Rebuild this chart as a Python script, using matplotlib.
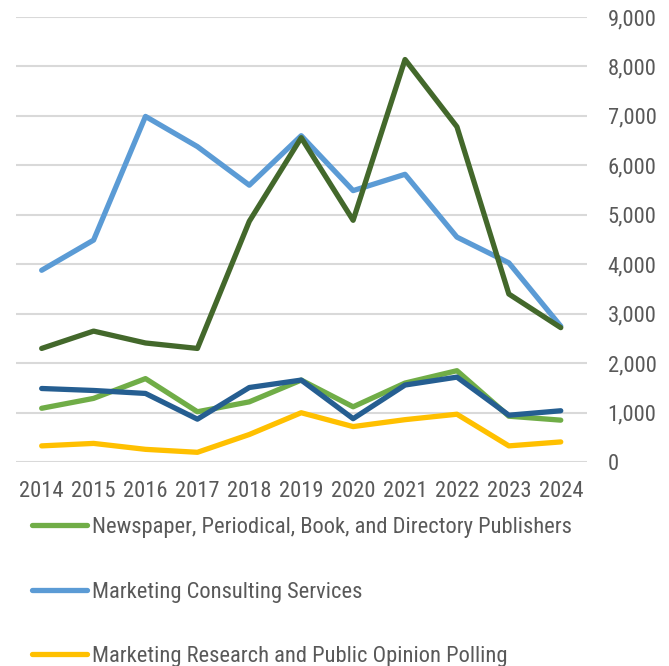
import matplotlib
matplotlib.use("Agg")
import matplotlib.pyplot as plt

years = ["2014", "2015", "2016", "2017", "2018", "2019", "2020", "2021", "2022", "2023", "2024"]

newspaper = [1090, 1290, 1690, 1020, 1220, 1660, 1120, 1600, 1850, 930, 850]
consulting = [3880, 4490, 6990, 6380, 5600, 6600, 5490, 5820, 4550, 4030, 2750]
research = [330, 380, 260, 200, 560, 1000, 720, 860, 970, 330, 410]
dark_blue_series = [1490, 1450, 1390, 870, 1510, 1660, 880, 1560, 1720, 950, 1040]
dark_green_series = [2300, 2650, 2410, 2300, 4870, 6560, 4890, 8140, 6780, 3400, 2720]

labels = [
    "Newspaper, Periodical, Book, and Directory Publishers",
    "Marketing Consulting Services",
    "Marketing Research and Public Opinion Polling",
]

yticks = [0, 1000, 2000, 3000, 4000, 5000, 6000, 7000, 8000, 9000]

plt.rcParams["font.family"] = ["Roboto Condensed", "DejaVu Sans"]
plt.rcParams["font.weight"] = "normal"

txt = "#595959"
fs = 16.2

fig = plt.figure(figsize=(6.69, 6.66), dpi=100)
ax = fig.add_axes([0.0235, 0.306, 0.8535, 0.6685])

x = list(range(len(years)))
lw = 3.8
kw = dict(lw=lw, solid_capstyle="round", solid_joinstyle="round", zorder=3)
l1, = ax.plot(x, newspaper, color="#70AD47", **kw)
l2, = ax.plot(x, consulting, color="#5B9BD5", **kw)
l3, = ax.plot(x, research, color="#FFC000", **kw)
ax.plot(x, dark_blue_series, color="#255E91", **kw)
ax.plot(x, dark_green_series, color="#43682B", **kw)

ax.set_xlim(-0.5, len(years) - 0.5)
ax.set_ylim(0, 9000)
ax.set_xticks(x)
ax.set_xticklabels(years)
ax.set_yticks(yticks)
ax.set_yticklabels([f"{v:,}" for v in yticks])
ax.yaxis.tick_right()
ax.tick_params(axis="both", length=0, labelsize=fs, colors=txt)
ax.tick_params(axis="x", pad=13.5)
ax.tick_params(axis="y", pad=15)
for lab in ax.get_yticklabels():
    lab.set_horizontalalignment("left")
ax.grid(axis="y", color="#D9D9D9", lw=1.5, zorder=0)
for s in ax.spines.values():
    s.set_visible(False)

leg = fig.legend([l1, l2, l3], labels, loc="upper left", bbox_to_anchor=(0.048, 0.2235),
                 frameon=False, fontsize=fs, handlelength=2.45, handletextpad=0.2,
                 labelspacing=1.93, borderaxespad=0, borderpad=0)
for t in leg.get_texts():
    t.set_color(txt)

fig.savefig("out.png", dpi=100)
